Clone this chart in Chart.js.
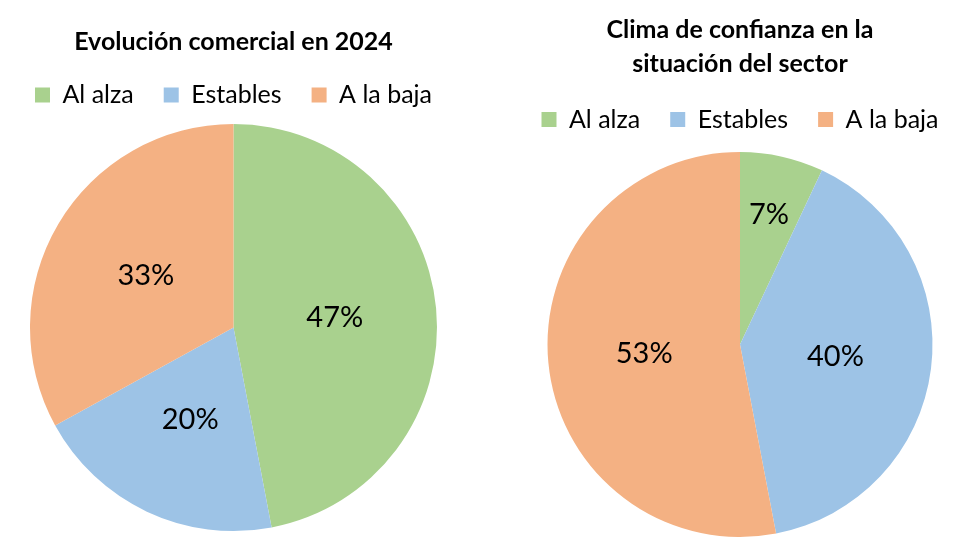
<!DOCTYPE html>
<html>
<head>
<meta charset="utf-8">
<script src="https://cdn.jsdelivr.net/npm/chart.js@4/dist/chart.umd.min.js"></script>
<style>
  html, body { margin: 0; padding: 0; background: #ffffff; }
  body { width: 980px; height: 560px; position: relative; overflow: hidden; }
  .box { position: absolute; top: 0; height: 560px; }
  #left { left: 0; width: 467px; }
  #right { left: 500px; width: 480px; }
</style>
</head>
<body>
<div class="box" id="left"><canvas id="c1" width="467" height="560"></canvas></div>
<div class="box" id="right"><canvas id="c2" width="480" height="560"></canvas></div>
<script>
// ---- data ----
const categories = ['Al alza', 'Estables', 'A la baja'];
const evolucionValues = [47, 20, 33];
const confianzaValues = [7, 40, 53];
const titleLeft = 'Evolución comercial en 2024';
const titleRight = ['Clima de confianza en la', 'situación del sector'];
const sliceColors = ['#A9D18E', '#9DC3E6', '#F4B183'];

Chart.defaults.font.family = 'Lato, "Open Sans", sans-serif';
Chart.defaults.color = '#000000';

const pieLabels = {
  id: 'pieLabels',
  afterDatasetsDraw(chart, args, opts) {
    const ctx = chart.ctx;
    const meta = chart.getDatasetMeta(0);
    const data = chart.data.datasets[0].data;
    ctx.save();
    ctx.font = opts.font;
    ctx.fillStyle = opts.color;
    ctx.textAlign = 'center';
    ctx.textBaseline = 'middle';
    meta.data.forEach((arc, i) => {
      const p = arc.getProps(['x', 'y', 'startAngle', 'endAngle', 'outerRadius'], true);
      const mid = (p.startAngle + p.endAngle) / 2;
      const f = opts.factors[i];
      ctx.fillText(data[i] + '%', p.x + Math.cos(mid) * p.outerRadius * f, p.y + Math.sin(mid) * p.outerRadius * f);
    });
    ctx.restore();
  }
};

function makePie(id, values, title, titlePadding, radius, padBottom, factors, lineHeight) {
  return new Chart(document.getElementById(id), {
    type: 'pie',
    data: {
      labels: categories,
      datasets: [{
        data: values,
        backgroundColor: sliceColors,
        borderWidth: 0,
        hoverOffset: 0
      }]
    },
    options: {
      responsive: false,
      animation: false,
      radius: radius,
      layout: { padding: { top: 0, bottom: padBottom, left: 0, right: 0 } },
      plugins: {
        title: {
          display: true,
          text: title,
          color: '#000000',
          font: { size: 25, weight: 'bold', lineHeight: lineHeight },
          padding: titlePadding
        },
        legend: {
          display: true,
          position: 'top',
          labels: {
            boxWidth: 15,
            boxHeight: 15,
            padding: 30,
            color: '#000000',
            font: { size: 25 }
          }
        },
        tooltip: { enabled: false },
        pieLabels: {
          font: '29px Lato, "Open Sans", sans-serif',
          color: '#000000',
          factors: factors
        }
      }
    },
    plugins: [pieLabels]
  });
}

makePie('c1', evolucionValues, titleLeft, { top: 27, bottom: -4.5 }, 203.5, 22.5, [0.5, 0.5, 0.5], 1.2);
makePie('c2', confianzaValues, titleRight, { top: 13, bottom: -4 }, 192.5, 13, [0.69, 0.5, 0.5], 34 / 25);
</script>
</body>
</html>
